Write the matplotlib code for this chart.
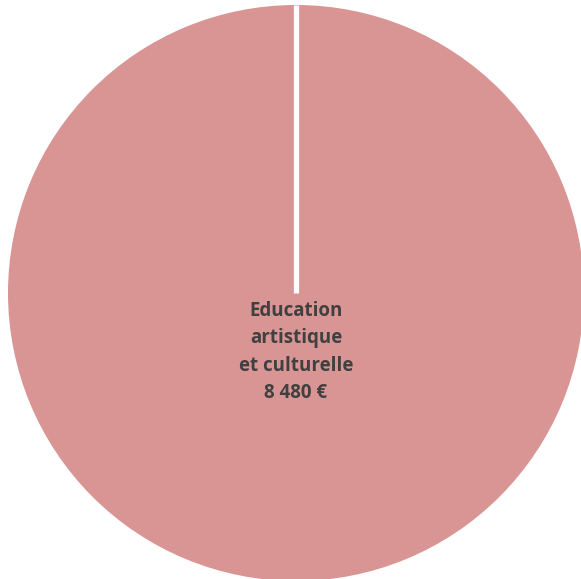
import matplotlib
matplotlib.use('Agg')
import matplotlib.pyplot as plt
import numpy as np

categories = ['Education\nartistique\net culturelle']
values = [8480]
colors = ['#D99594']

fig = plt.figure(figsize=(5.81, 5.79), dpi=100)
ax = fig.add_axes([8/581, -2/579, 576/581, 576/579])
wedges, _ = ax.pie(values, colors=colors, startangle=90, counterclock=False, radius=1,
                   wedgeprops=dict(edgecolor='none'))
ax.set_xlim(-1, 1)
ax.set_ylim(-1, 1)
ax.set_aspect('auto')

# separator at start of slice (full circle wedge draws no radial edge)
a = np.deg2rad(90)
ax.plot([0, np.cos(a)], [0, np.sin(a)], color='white', lw=3.8, solid_capstyle='butt')

lbl = categories[0] + '\n' + '{:,}'.format(values[0]).replace(',', ' ') + ' €'
ax.text(0, -0.205, lbl, ha='center', va='center', fontsize=13.5, fontweight='bold',
        color='#404040', family='Open Sans', linespacing=1.5)

fig.savefig('out.png', dpi=100)
